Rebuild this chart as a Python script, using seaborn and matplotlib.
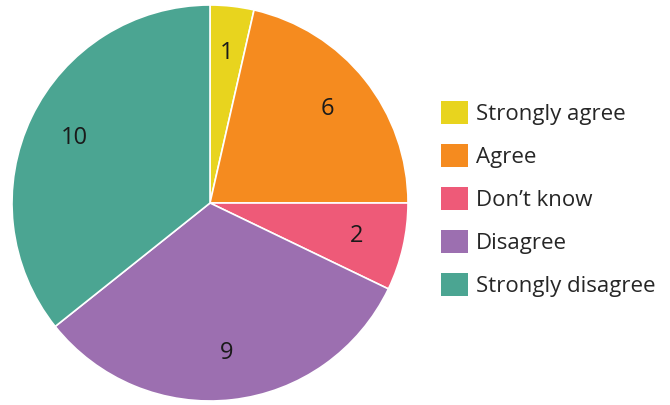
import matplotlib
matplotlib.use("Agg")
import matplotlib.pyplot as plt
import seaborn as sns

categories = ["Strongly agree", "Agree", "Don\u2019t know", "Disagree", "Strongly disagree"]
counts = [1, 6, 2, 9, 10]
colors = ["#E8D41E", "#F58B1F", "#EE5A78", "#9C6FB0", "#4BA592"]

sns.set_theme(style="white")
plt.rcParams["font.family"] = ["Open Sans", "DejaVu Sans"]

W, H = 670, 405
fig = plt.figure(figsize=(W / 100, H / 100), dpi=100)
cx, cy, r = 210, 203, 198
ax = fig.add_axes([(cx - r) / W, (H - cy - r) / H, 2 * r / W, 2 * r / H])

wedges, texts = ax.pie(
    counts,
    colors=sns.color_palette(colors),
    startangle=90,
    counterclock=False,
    labels=[str(c) for c in counts],
    labeldistance=0.76,
    wedgeprops=dict(edgecolor="white", linewidth=1.2),
    textprops=dict(fontsize=17, color="#1a1a1a", ha="center", va="center"),
)
ax.set_aspect("equal")
ax.set_xlim(-1, 1)
ax.set_ylim(-1, 1)

leg = fig.legend(
    wedges, categories,
    loc="upper left",
    bbox_to_anchor=(430 / W, 1 - 90 / H),
    frameon=False,
    fontsize=16,
    handlelength=1.2,
    handleheight=1.2,
    handletextpad=0.35,
    labelspacing=0.86,
    borderpad=0,
)
for h in leg.legend_handles:
    h.set_edgecolor("none")

fig.savefig("out.png", dpi=100, facecolor="white")
